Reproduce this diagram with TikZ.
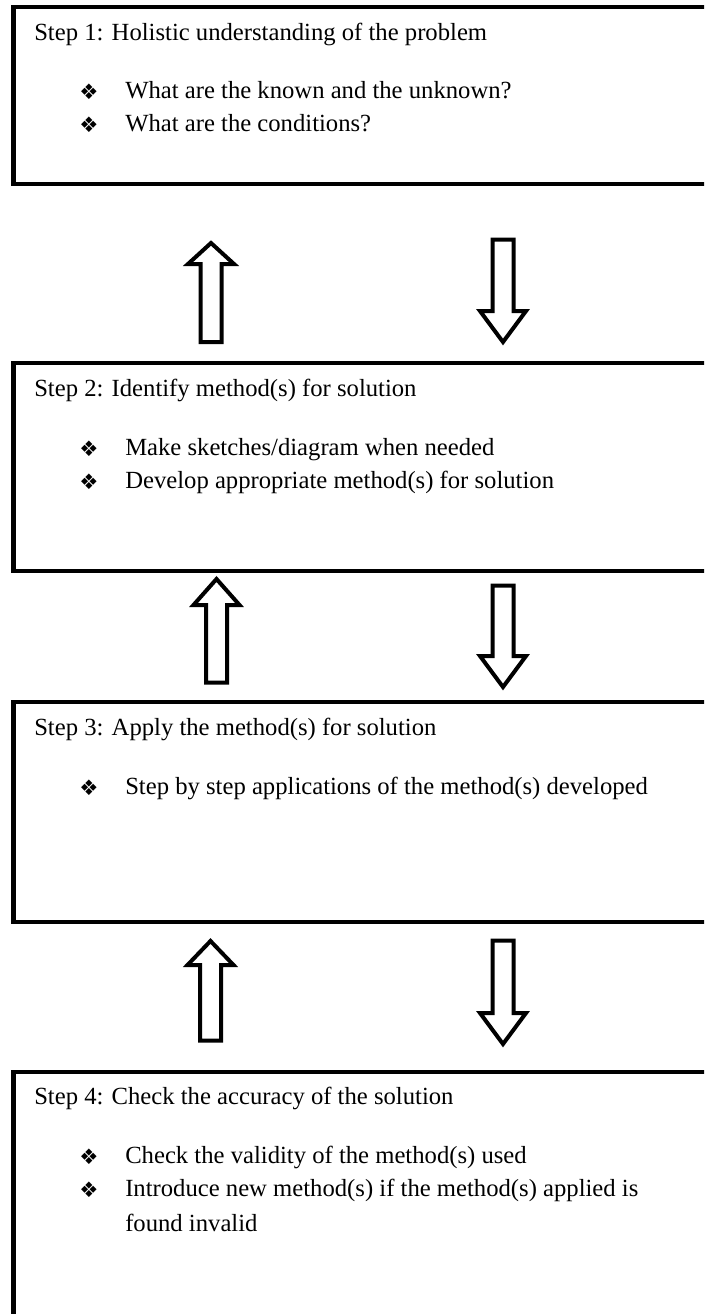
\documentclass[tikz,border=0pt]{standalone}
\usepackage{fontspec}
\setmainfont{Liberation Serif}
\newfontfamily\dingfont{DejaVu Sans}
\usepackage{tikz}
\usetikzlibrary{arrows.meta}

\begin{document}
\begin{tikzpicture}[
    x = 0.75pt, y = -0.75pt,
    stepbox/.style = {line width = 3.4pt, line join = miter},
    blockarrow/.style = {line width = 3pt, line join = miter, fill = white},
    steptext/.style = {anchor = base west, inner sep = 0pt, font = \fontsize{18.5}{22}\selectfont},
    bulletmark/.style = {anchor = center, inner sep = 0pt, font = \dingfont\fontsize{16}{18}\selectfont}
]
    \useasboundingbox (0,0) rectangle (704,1314);
    \clip (0,0) rectangle (704,1314);

    % the four boxes, right side runs off the page
    \draw[stepbox] (13.5,7) rectangle (740,184);
    \draw[stepbox] (13.5,363) rectangle (740,571);
    \draw[stepbox] (13.5,702) rectangle (740,922);
    \draw[stepbox] (13.5,1072) rectangle (740,1316);

    \node[steptext] (s1) at (34,40) {Step 1: Holistic understanding of the problem};
    \node[bulletmark] (b11) at (89,92) {❖};
    \node[steptext] (t11) at (125,98) {What are the known and the unknown?};
    \node[bulletmark] (b12) at (89,125) {❖};
    \node[steptext] (t12) at (125,131) {What are the conditions?};

    \node[steptext] (s2) at (34,396) {Step 2: Identify method(s) for solution};
    \node[bulletmark] (b21) at (89,449) {❖};
    \node[steptext] (t21) at (125,455) {Make sketches/diagram when needed};
    \node[bulletmark] (b22) at (89,482) {❖};
    \node[steptext] (t22) at (125,488) {Develop appropriate method(s) for solution};

    \node[steptext] (s3) at (34,735) {Step 3: Apply the method(s) for solution};
    \node[bulletmark] (b31) at (89,788) {❖};
    \node[steptext] (t31) at (125,794) {Step by step applications of the method(s) developed};

    \node[steptext] (s4) at (34,1104) {Step 4: Check the accuracy of the solution};
    \node[bulletmark] (b41) at (89,1157) {❖};
    \node[steptext] (t41) at (125,1163) {Check the validity of the method(s) used};
    \node[bulletmark] (b42) at (89,1190) {❖};
    \node[steptext] (t42) at (125,1196) {Introduce new method(s) if the method(s) applied is};
    \node[steptext] (t43) at (125,1231) {found invalid};

    % hollow arrows between the boxes
    \foreach \x/\tip/\base/\tail in {211/243/264/342, 216.5/579/605/682.5, 210.5/941/965/1040.5} {
        \draw[blockarrow] (\x,\tip) -- (\x+23,\base) -- (\x+10.5,\base) -- (\x+10.5,\tail)
            -- (\x-10.5,\tail) -- (\x-10.5,\base) -- (\x-23,\base) -- cycle;
    }
    \foreach \x/\top/\base/\tip in {503/239.5/311/342, 503/585.5/656/687, 503/940.5/1013/1044} {
        \draw[blockarrow] (\x,\tip) -- (\x+23,\base) -- (\x+10.5,\base) -- (\x+10.5,\top)
            -- (\x-10.5,\top) -- (\x-10.5,\base) -- (\x-23,\base) -- cycle;
    }

\end{tikzpicture}
\end{document}
